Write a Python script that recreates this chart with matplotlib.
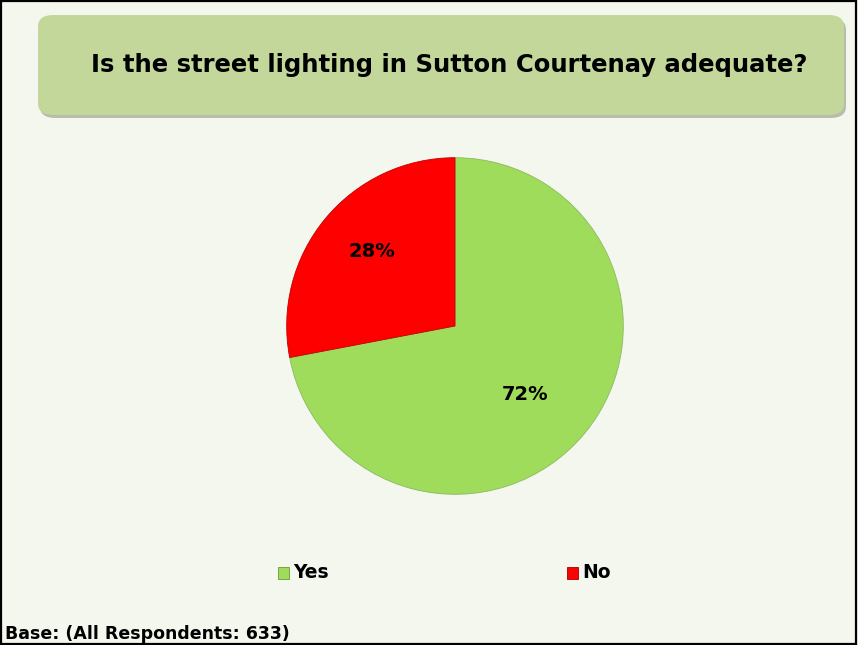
import matplotlib.pyplot as plt
from matplotlib.patches import FancyBboxPatch, Rectangle

W, H = 858, 645

title = "Is the street lighting in Sutton Courtenay adequate?"
categories = ["Yes", "No"]
shares = [72, 28]
colors = ["#9FDC5B", "#FF0000"]
base_note = "Base: (All Respondents: 633)"

fig = plt.figure(figsize=(W / 100, H / 100), dpi=100)
fig.patch.set_facecolor("#F4F7EE")


def fx(px):
    return px / W


def fy(py):
    return 1 - py / H


# outer frame
fig.add_artist(Rectangle((0.001, 0.001), 0.997, 0.997, transform=fig.transFigure,
                         fill=False, edgecolor="black", lw=1.6))

# title box with shadow
shadow = FancyBboxPatch((fx(40), fy(118)), fx(806), fy(18) - fy(118),
                        boxstyle="round,pad=0,rounding_size=0.018",
                        transform=fig.transFigure, facecolor="#8E9780",
                        edgecolor="none", alpha=0.6)
fig.add_artist(shadow)
box = FancyBboxPatch((fx(38), fy(115)), fx(806), fy(15) - fy(115),
                     boxstyle="round,pad=0,rounding_size=0.018",
                     transform=fig.transFigure, facecolor="#C4D79B",
                     edgecolor="none")
fig.add_artist(box)
fig.text(fx(449), fy(65), title, ha="center", va="center",
         fontsize=17.5, fontweight="bold", color="black")

# pie
ax = fig.add_axes([fx(285), fy(496), fx(340), fy(156) - fy(496)])
wedges, _ = ax.pie(shares, colors=colors, startangle=90, counterclock=False,
                   radius=1.0, wedgeprops=dict(edgecolor="#8FB860", lw=0.6))
wedges[1].set_edgecolor("#C00000")
ax.set_xlim(-1.01, 1.01)
ax.set_ylim(-1.01, 1.01)
ax.set_aspect("equal")
ax.axis("off")

label_pos = [(525, 395), (372, 252)]
for (px, py), v in zip(label_pos, shares):
    fig.text(fx(px), fy(py), f"{v}%", ha="center", va="center",
             fontsize=14, fontweight="bold", color="black")

# legend
legend_x = [278, 567]
for lx, c, name in zip(legend_x, colors, categories):
    fig.add_artist(Rectangle((fx(lx), fy(579)), fx(11), fy(567) - fy(579),
                             transform=fig.transFigure, facecolor=c,
                             edgecolor="#6A9A30" if name == "Yes" else "#A00000", lw=0.6))
    fig.text(fx(lx + 15), fy(573), name, ha="left", va="center",
             fontsize=13.5, fontweight="bold", color="black")

fig.text(fx(5), fy(634), base_note, ha="left", va="center",
         fontsize=12.5, fontweight="bold", color="black")

fig.savefig("out.png", dpi=100, facecolor=fig.get_facecolor())
